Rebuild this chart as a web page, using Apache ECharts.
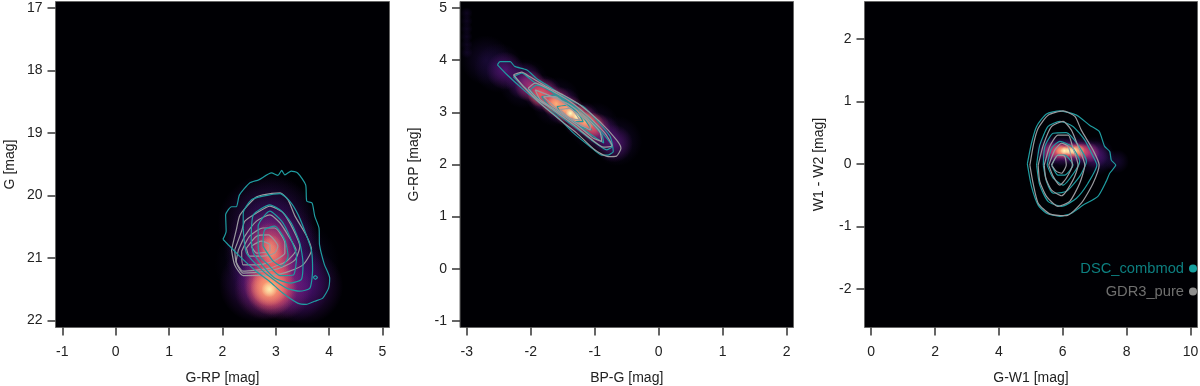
<!DOCTYPE html>
<html>
<head>
<meta charset="utf-8">
<style>html,body{margin:0;padding:0;background:#fff}#chart{width:1200px;height:386px}</style>
<script src="https://cdn.jsdelivr.net/npm/echarts@6/dist/echarts.min.js"></script>
</head>
<body>
<div id="chart"></div>
<script>
// tick labels
const p1XTicks = [-1, 0, 1, 2, 3, 4, 5]
const p1YTicks = [17, 18, 19, 20, 21, 22]
const p2XTicks = [-3, -2, -1, 0, 1, 2]
const p2YTicks = [-1, 0, 1, 2, 3, 4, 5]
const p3XTicks = [0, 2, 4, 6, 8, 10]
const p3YTicks = [-2, -1, 0, 1, 2]

// contours, outermost first
const p1Teal = [
  [[2.01,20.70],[2.07,20.57],[2.06,20.31],[2.17,20.18],[2.26,20.18],[2.32,19.99],[2.51,19.80],[2.68,19.75],[2.92,19.64],[3.04,19.68],[3.11,19.60],[3.17,19.67],[3.29,19.61],[3.41,19.64],[3.56,19.83],[3.58,20.09],[3.68,20.12],[3.73,20.33],[3.81,20.52],[3.82,20.79],[3.91,21.10],[4.01,21.32],[3.99,21.48],[3.88,21.64],[3.73,21.69],[3.57,21.74],[3.41,21.72],[3.13,21.56],[2.88,21.37],[2.63,21.21],[2.32,20.97],[2.10,20.78]],
  [[3.70,21.31],[3.74,21.28],[3.78,21.31],[3.74,21.34]],
  [[2.39,20.55],[2.39,20.28],[2.54,20.07],[2.76,20.01],[3.08,19.97],[3.26,20.09],[3.42,20.31],[3.58,20.65],[3.67,20.89],[3.69,21.19],[3.64,21.48],[3.45,21.53],[3.20,21.48],[2.95,21.34],[2.70,21.16],[2.45,20.92]],
  [[2.54,20.71],[2.58,20.31],[2.89,20.15],[3.11,20.25],[3.29,20.44],[3.45,20.76],[3.51,21.08],[3.48,21.34],[3.26,21.40],[2.98,21.32],[2.76,21.13],[2.58,20.92]],
  [[2.67,20.81],[2.67,20.49],[2.89,20.25],[3.11,20.41],[3.26,20.65],[3.39,20.97],[3.33,21.27],[3.08,21.28],[2.86,21.11],[2.70,20.97]],
  [[2.76,20.81],[2.79,20.55],[2.98,20.49],[3.17,20.71],[3.23,20.97],[3.11,21.13],[2.95,21.05]]
]
const p1Grey = [
  [[2.17,20.87],[2.26,20.55],[2.33,20.31],[2.61,20.04],[2.76,19.99],[3.08,19.96],[3.23,20.07],[3.36,20.33],[3.58,20.65],[3.67,20.87],[3.51,21.11],[3.26,21.21],[2.98,21.27],[2.39,21.28],[2.23,21.11]],
  [[2.23,20.87],[2.36,20.57],[2.42,20.41],[2.64,20.28],[2.89,20.17],[3.14,20.28],[3.33,20.55],[3.45,20.81],[3.36,21.03],[3.08,21.16],[2.83,21.21],[2.39,21.24],[2.26,21.08]],
  [[2.30,20.87],[2.42,20.65],[2.64,20.41],[2.89,20.31],[3.08,20.44],[3.26,20.68],[3.38,20.87],[3.20,21.05],[2.89,21.16],[2.39,21.21],[2.26,21.05]],
  [[2.36,20.89],[2.51,20.65],[2.76,20.52],[2.98,20.52],[3.17,20.76],[3.17,20.92],[2.95,21.05],[2.67,21.11],[2.39,21.11]],
  [[2.45,20.84],[2.64,20.65],[2.86,20.63],[3.04,20.81],[2.98,20.92],[2.76,20.97],[2.51,20.97]],
  [[2.54,20.81],[2.73,20.73],[2.89,20.79],[2.89,20.89],[2.64,20.92]]
]
const p2Teal = [
  [[-2.52,3.91],[-2.48,3.97],[-2.32,3.97],[-2.25,3.88],[-2.06,3.81],[-1.91,3.65],[-1.67,3.46],[-1.44,3.27],[-1.18,3.11],[-0.97,2.85],[-0.76,2.54],[-0.71,2.25],[-0.79,2.18],[-0.89,2.18],[-1.07,2.34],[-1.33,2.60],[-1.59,2.92],[-1.85,3.17],[-2.11,3.43],[-2.37,3.72]],
  [[-2.27,3.68],[-2.14,3.75],[-1.96,3.59],[-1.72,3.43],[-1.49,3.24],[-1.23,3.05],[-0.97,2.73],[-0.73,2.34],[-0.81,2.28],[-1.02,2.44],[-1.28,2.69],[-1.57,2.95],[-1.85,3.24],[-2.11,3.49]],
  [[-2.01,3.43],[-1.91,3.52],[-1.62,3.37],[-1.36,3.14],[-1.10,2.85],[-0.89,2.57],[-0.86,2.41],[-1.02,2.54],[-1.31,2.79],[-1.62,3.05],[-1.85,3.20]],
  [[-1.83,3.30],[-1.65,3.33],[-1.39,3.11],[-1.15,2.85],[-1.05,2.66],[-1.23,2.73],[-1.49,2.95],[-1.72,3.14]],
  [[-1.59,3.11],[-1.41,3.14],[-1.23,2.92],[-1.18,2.82],[-1.33,2.82],[-1.52,2.98]]
]
const p2Grey = [
  [[-2.27,3.72],[-2.14,3.77],[-2.01,3.68],[-1.75,3.49],[-1.49,3.33],[-1.23,3.14],[-0.92,2.82],[-0.66,2.47],[-0.59,2.31],[-0.66,2.16],[-0.79,2.15],[-1.00,2.28],[-1.28,2.60],[-1.54,2.85],[-1.85,3.17],[-2.11,3.49]],
  [[-2.04,3.46],[-1.93,3.56],[-1.65,3.40],[-1.39,3.21],[-1.13,2.95],[-0.84,2.60],[-0.73,2.36],[-0.86,2.33],[-1.07,2.50],[-1.33,2.76],[-1.65,3.05],[-1.88,3.24]],
  [[-1.93,3.43],[-1.67,3.30],[-1.39,3.14],[-1.13,2.89],[-0.92,2.63],[-0.89,2.44],[-1.02,2.50],[-1.28,2.76],[-1.62,3.05],[-1.85,3.24]],
  [[-1.80,3.30],[-1.62,3.30],[-1.39,3.08],[-1.07,2.76],[-1.07,2.66],[-1.28,2.80],[-1.54,3.01]],
  [[-1.54,3.05],[-1.39,3.08],[-1.23,2.85],[-1.39,2.89]]
]
const p3Teal = [
  [[4.89,0.00],[5.02,0.33],[5.18,0.60],[5.49,0.80],[5.91,0.85],[6.43,0.78],[6.84,0.62],[7.14,0.52],[7.31,0.28],[7.47,0.20],[7.52,0.06],[7.66,-0.02],[7.47,-0.15],[7.36,-0.28],[7.10,-0.52],[6.64,-0.66],[6.27,-0.79],[5.91,-0.84],[5.49,-0.79],[5.23,-0.66],[5.02,-0.36]],
  [[5.18,-0.02],[5.28,0.30],[5.54,0.60],[5.91,0.68],[6.32,0.60],[6.69,0.38],[6.95,0.12],[7.07,-0.02],[6.79,-0.31],[6.43,-0.55],[5.96,-0.68],[5.54,-0.60],[5.28,-0.34]],
  [[5.39,-0.02],[5.44,0.28],[5.70,0.49],[6.11,0.50],[6.48,0.30],[6.74,0.04],[6.53,-0.20],[6.11,-0.44],[5.70,-0.47],[5.49,-0.28]],
  [[5.51,-0.02],[5.65,0.25],[5.91,0.36],[6.27,0.28],[6.53,0.04],[6.38,-0.12],[6.01,-0.34],[5.70,-0.23]],
  [[5.65,-0.02],[5.85,0.14],[6.06,0.14],[6.32,-0.02],[6.06,-0.18],[5.85,-0.18]]
]
const p3Grey = [
  [[4.97,-0.02],[5.09,0.33],[5.23,0.57],[5.54,0.78],[6.01,0.85],[6.38,0.76],[6.58,0.54],[6.95,0.22],[7.14,-0.02],[6.95,-0.31],[6.58,-0.63],[6.11,-0.83],[5.59,-0.80],[5.23,-0.63],[5.07,-0.31]],
  [[5.23,-0.02],[5.39,0.30],[5.65,0.60],[6.01,0.68],[6.27,0.54],[6.48,0.28],[6.69,-0.02],[6.53,-0.31],[6.22,-0.60],[5.85,-0.68],[5.49,-0.52],[5.28,-0.28]],
  [[5.42,-0.02],[5.59,0.28],[5.85,0.46],[6.17,0.46],[6.32,0.25],[6.48,-0.02],[6.32,-0.26],[5.96,-0.51],[5.65,-0.42],[5.47,-0.23]],
  [[5.56,-0.02],[5.75,0.22],[5.96,0.33],[6.17,0.28],[6.30,-0.02],[6.11,-0.23],[5.91,-0.34],[5.70,-0.20]],
  [[5.65,-0.02],[5.85,0.14],[6.06,0.12],[6.11,-0.02],[5.96,-0.15],[5.80,-0.12]]
]

// density ridges, one list per brightness step (dim to bright)
const p1Haze = [[2.9,20.4],[2.95,20.9],[3.0,21.1],[3.35,21.1],[2.7,21.1]]
const p1Purple = [[2.85,20.45],[2.95,20.85],[3.0,21.0]]
const p1PurpleLow = [[2.65,21.42],[2.95,21.4],[3.3,21.42],[3.55,21.45]]
const p1Magenta = [[2.88,20.7],[2.92,20.95],[2.95,21.2],[2.8,21.5],[3.1,21.5]]
const p1Rose = [[2.9,20.75],[2.93,20.95],[2.95,21.1],[2.93,21.3]]
const p1Ridge = [[2.9,20.8],[2.93,20.95]]
const p1Coral = [[2.88,21.42],[2.92,21.5]]
const p1Orange = [[2.88,21.47]]
const p1Pale = [[2.88,21.5]]

const p2Haze = [[-2.7,4.0],[-2.5,3.85],[-2.1,3.55],[-1.6,3.2],[-1.0,2.72],[-0.65,2.45]]
const p2Tail = [[-3.0,4.9],[-3.0,4.75],[-3.0,4.6],[-3.0,4.45],[-3.0,4.3],[-3.0,4.15]]
const p2Purple = [[-2.4,3.8],[-2.1,3.6],[-1.8,3.35],[-1.5,3.12],[-1.2,2.85],[-0.9,2.6],[-0.7,2.4]]
const p2Magenta = [[-2.0,3.5],[-1.8,3.35],[-1.6,3.2],[-1.4,3.02],[-1.2,2.85],[-1.0,2.7]]
const p2Coral = [[-1.85,3.35],[-1.65,3.2],[-1.45,3.05],[-1.25,2.9],[-1.05,2.75]]
const p2Orange = [[-1.6,3.16],[-1.45,3.05],[-1.3,2.94],[-1.15,2.83]]
const p2Pale = [[-1.38,2.98],[-1.28,2.92]]

const p3Haze = [[5.7,0.2],[6.3,0.2],[7.0,0.12]]
const p3Tail = [[7.3,0.08],[7.7,0.04]]
const p3Purple = [[5.6,0.2],[5.95,0.2],[6.3,0.2],[6.65,0.2],[7.0,0.15]]
const p3Magenta = [[5.6,0.2],[5.85,0.2],[6.1,0.2],[6.35,0.2],[6.6,0.2],[6.85,0.18]]
const p3Coral = [[5.85,0.21],[6.05,0.21],[6.25,0.21],[6.45,0.21],[6.6,0.2]]
const p3Orange = [[5.95,0.21],[6.15,0.21],[6.35,0.21],[6.5,0.21]]
const p3Pale = [[6.05,0.21],[6.2,0.21],[6.35,0.21]]

const TEAL = 'DSC_combmod'
const GREY = 'GDR3_pure'
const font = 'Liberation Sans'

function axis(ticks, min, max, name, gridIndex, gap, margin, inverse) {
  return {
    type: 'value', gridIndex, min, max, name, inverse: !!inverse,
    nameLocation: 'middle', nameGap: gap,
    nameTextStyle: { color: '#222', fontSize: 14, fontFamily: font },
    splitLine: { show: false },
    axisLine: { show: false, onZero: false },
    axisTick: { show: true, length: 8, customValues: ticks, lineStyle: { color: '#333', width: 1.5 } },
    axisLabel: { customValues: ticks, margin, color: '#222', fontSize: 14, fontFamily: font }
  }
}

// y labels sit a little low next to their ticks
function yAxis(...args) {
  const a = axis(...args)
  a.axisLabel.padding = [5, 0, 0, 0]
  return a
}

function glow(i, points, size, color, alpha) {
  return {
    type: 'scatter', xAxisIndex: i, yAxisIndex: i, data: points, symbolSize: size, silent: true,
    itemStyle: {
      opacity: alpha,
      color: { type: 'radial', x: 0.5, y: 0.5, r: 0.5, colorStops: [
        { offset: 0, color },
        { offset: 0.5, color: color + '88' },
        { offset: 1, color: color + '00' }
      ] }
    }
  }
}

function contours(i, name, loops, color, z) {
  return loops.map(pts => ({
    type: 'line', name, xAxisIndex: i, yAxisIndex: i, data: pts.concat([pts[0]]),
    symbol: 'none', smooth: 0.2, silent: true, z,
    lineStyle: { color, width: 1.2 }
  }))
}

const lineTeal = '#1f9ca1'
const lineGrey = '#9a9a9f'
const series = [
  glow(0, p1Haze, 90, '#1d1147', 0.5), glow(0, p1Purple, 100, '#51127c', 0.55), glow(0, p1PurpleLow, 76, '#51127c', 0.7),
  glow(0, p1Magenta, 62, '#a8327d', 0.6), glow(0, p1Rose, 40, '#f1605d', 0.6), glow(0, p1Ridge, 22, '#feb078', 0.5),
  glow(0, p1Coral, 52, '#f1605d', 0.9), glow(0, p1Orange, 38, '#feb078', 1), glow(0, p1Pale, 16, '#fcfdbf', 0.8),
  ...contours(0, GREY, p1Grey, lineGrey, 5), ...contours(0, TEAL, p1Teal, lineTeal, 6),
  glow(1, p2Tail, 12, '#2a1158', 0.35), glow(1, p2Haze, 50, '#2a1158', 0.45),
  glow(1, p2Purple, 38, '#5f187f', 0.8), glow(1, p2Magenta, 32, '#b73779', 0.85),
  glow(1, p2Coral, 26, '#f1605d', 0.95), glow(1, p2Orange, 20, '#feb078', 1), glow(1, p2Pale, 10, '#fcfdbf', 1),
  ...contours(1, TEAL, p2Teal, lineTeal, 5), ...contours(1, GREY, p2Grey, lineGrey, 6),
  glow(2, p3Tail, 24, '#2a1158', 0.5), glow(2, p3Haze, 40, '#2a1158', 0.7), glow(2, p3Purple, 28, '#5f187f', 0.8),
  glow(2, p3Magenta, 20, '#b73779', 0.85), glow(2, p3Coral, 16, '#f1605d', 0.9),
  glow(2, p3Orange, 12, '#feb078', 1), glow(2, p3Pale, 8, '#fcfdbf', 1),
  ...contours(2, TEAL, p3Teal, lineTeal, 5), ...contours(2, GREY, p3Grey, lineGrey, 6)
]

const gridStyle = { show: true, backgroundColor: '#000004', borderColor: '#666', borderWidth: 1, outerBoundsMode: 'none' }
const option = {
  animation: false,
  grid: [
    { left: 55.5, top: 1.5, width: 334, height: 326, ...gridStyle },
    { left: 460, top: 1.5, width: 333.5, height: 326, ...gridStyle },
    { left: 864.5, top: 1.5, width: 333, height: 326, ...gridStyle }
  ],
  xAxis: [
    axis(p1XTicks, -1.128, 5.131, 'G-RP [mag]', 0, 44, 18),
    axis(p2XTicks, -3.105, 2.106, 'BP-G [mag]', 1, 44, 18),
    axis(p3XTicks, -0.21, 10.22, 'G-W1 [mag]', 2, 44, 18)
  ],
  yAxis: [
    yAxis(p1YTicks, 16.9, 22.11, 'G [mag]', 0, 38, 13, true),
    yAxis(p2YTicks, -1.128, 5.125, 'G-RP [mag]', 1, 39, 13),
    yAxis(p3YTicks, -2.62, 2.6, 'W1 - W2 [mag]', 2, 38, 13)
  ],
  legend: {
    orient: 'vertical', align: 'right', right: 3, top: 261, itemGap: 8, itemWidth: 8, itemHeight: 8,
    selectedMode: false, padding: 0,
    textStyle: { fontSize: 14.7, fontFamily: font },
    data: [
      { name: TEAL, icon: 'circle', itemStyle: { color: '#16a0a0' }, textStyle: { color: '#0d7f80' } },
      { name: GREY, icon: 'circle', itemStyle: { color: '#8f8f8f' }, textStyle: { color: '#6f6f6f' } }
    ]
  },
  series
}

const myChart = echarts.init(document.getElementById('chart'))
myChart.setOption(option)
</script>
</body>
</html>
